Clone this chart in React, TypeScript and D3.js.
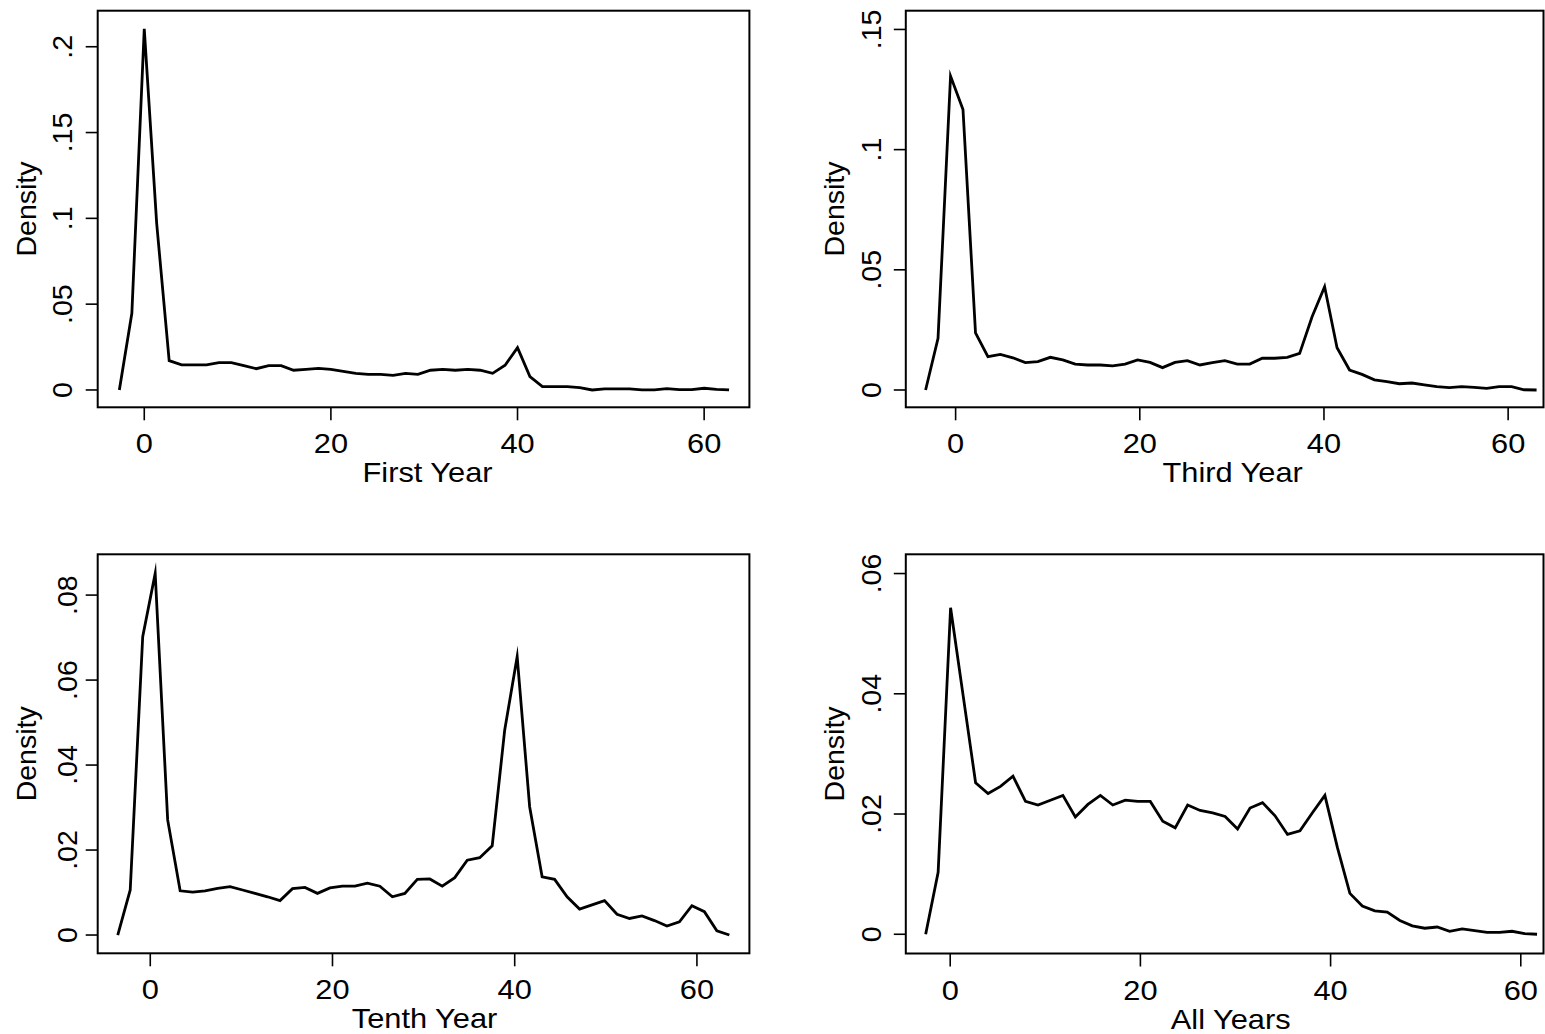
import React from "react";
import * as d3 from "d3";

// ---- data ----
const firstYearX = [-2.67, -1.33, 0, 1.33, 2.67, 4, 5.33, 6.67, 8, 9.33, 10.67, 12, 13.33, 14.67, 16, 17.33, 18.67, 20, 21.33, 22.67, 24, 25.33, 26.67, 28, 29.33, 30.67, 32, 33.33, 34.67, 36, 37.33, 38.67, 40, 41.33, 42.67, 44, 45.33, 46.67, 48, 49.33, 50.67, 52, 53.33, 54.67, 56, 57.33, 58.67, 60, 61.33, 62.67];
const firstYearY = [0, 0.0447, 0.2104, 0.0971, 0.0171, 0.0146, 0.0146, 0.0146, 0.0159, 0.0159, 0.0142, 0.0124, 0.0142, 0.0142, 0.0115, 0.012, 0.0126, 0.012, 0.0109, 0.0097, 0.0091, 0.0091, 0.0085, 0.0097, 0.0091, 0.0115, 0.012, 0.0115, 0.012, 0.0115, 0.0097, 0.0144, 0.0247, 0.0078, 0.0019, 0.0019, 0.0019, 0.0014, 0, 0.0006, 0.0006, 0.0006, 0, 0, 0.0008, 0.0002, 0.0002, 0.001, 0.0004, 0];

const thirdYearX = [-3.26, -1.91, -0.55, 0.8, 2.16, 3.51, 4.86, 6.22, 7.57, 8.93, 10.28, 11.63, 12.99, 14.34, 15.7, 17.05, 18.4, 19.76, 21.11, 22.47, 23.82, 25.17, 26.53, 27.88, 29.24, 30.59, 31.94, 33.3, 34.65, 36.01, 37.36, 38.71, 40.07, 41.42, 42.78, 44.13, 45.48, 46.84, 48.19, 49.55, 50.9, 52.25, 53.61, 54.96, 56.32, 57.67, 59.02, 60.38, 61.73, 63.09];
const thirdYearY = [0, 0.0215, 0.1306, 0.1167, 0.0238, 0.0139, 0.0148, 0.0134, 0.0114, 0.0118, 0.0136, 0.0125, 0.0108, 0.0104, 0.0104, 0.01, 0.0108, 0.0125, 0.0115, 0.0093, 0.0115, 0.0122, 0.0104, 0.0114, 0.0122, 0.0108, 0.0108, 0.0132, 0.0132, 0.0136, 0.0152, 0.0305, 0.043, 0.0176, 0.0083, 0.0065, 0.0042, 0.0035, 0.0026, 0.0029, 0.0021, 0.0014, 0.001, 0.0014, 0.0011, 0.0007, 0.0014, 0.0014, 0.0001, 0];

const tenthYearX = [-3.57, -2.2, -0.83, 0.54, 1.91, 3.28, 4.65, 6.02, 7.39, 8.76, 10.13, 11.5, 12.87, 14.24, 15.61, 16.98, 18.35, 19.72, 21.09, 22.46, 23.83, 25.2, 26.57, 27.94, 29.31, 30.68, 32.05, 33.42, 34.79, 36.16, 37.53, 38.9, 40.27, 41.64, 43.01, 44.38, 45.75, 47.12, 48.49, 49.86, 51.23, 52.6, 53.97, 55.34, 56.71, 58.08, 59.45, 60.82, 62.19, 63.56];
const tenthYearY = [0, 0.0106, 0.0702, 0.0851, 0.0271, 0.0104, 0.0101, 0.0104, 0.011, 0.0114, 0.0106, 0.0098, 0.009, 0.0081, 0.0109, 0.0112, 0.0098, 0.0111, 0.0115, 0.0115, 0.0122, 0.0115, 0.009, 0.0098, 0.0131, 0.0132, 0.0115, 0.0135, 0.0176, 0.0182, 0.021, 0.0482, 0.0655, 0.0302, 0.0137, 0.0131, 0.009, 0.0061, 0.0071, 0.0081, 0.0049, 0.0039, 0.0045, 0.0034, 0.0021, 0.0031, 0.0069, 0.0055, 0.001, 0];

const allYearsX = [-2.58, -1.27, 0.04, 1.36, 2.67, 3.98, 5.29, 6.6, 7.92, 9.23, 10.54, 11.85, 13.16, 14.48, 15.79, 17.1, 18.41, 19.72, 21.04, 22.35, 23.66, 24.97, 26.28, 27.6, 28.91, 30.22, 31.53, 32.84, 34.16, 35.47, 36.78, 38.09, 39.4, 40.72, 42.03, 43.34, 44.65, 45.96, 47.28, 48.59, 49.9, 51.21, 52.52, 53.84, 55.15, 56.46, 57.77, 59.08, 60.4, 61.71];
const allYearsY = [0, 0.0103, 0.0543, 0.0397, 0.0252, 0.0234, 0.0246, 0.0263, 0.0221, 0.0215, 0.0223, 0.0231, 0.0195, 0.0216, 0.0231, 0.0215, 0.0223, 0.0221, 0.0221, 0.0188, 0.0177, 0.0215, 0.0206, 0.0202, 0.0196, 0.0175, 0.021, 0.0219, 0.0197, 0.0166, 0.0172, 0.0202, 0.0231, 0.0144, 0.0068, 0.0047, 0.0039, 0.0037, 0.0023, 0.0014, 0.001, 0.0012, 0.0005, 0.0009, 0.0006, 0.0003, 0.0003, 0.0005, 0.0001, 0];

const xTicks = [0, 20, 40, 60];
const xTickLabels = ["0", "20", "40", "60"];

const firstYTicks = [0, 0.05, 0.1, 0.15, 0.2];
const firstYLabels = ["0", ".05", ".1", ".15", ".2"];
const thirdYTicks = [0, 0.05, 0.1, 0.15];
const thirdYLabels = ["0", ".05", ".1", ".15"];
const tenthYTicks = [0, 0.02, 0.04, 0.06, 0.08];
const tenthYLabels = ["0", ".02", ".04", ".06", ".08"];
const allYTicks = [0, 0.02, 0.04, 0.06];
const allYLabels = ["0", ".02", ".04", ".06"];

const titles = ["First Year", "Third Year", "Tenth Year", "All Years"];
const yTitle = "Density";

// ---- layout ----
const W = 1545;
const H = 1034;
const FONT = "'Liberation Sans', Arial, Helvetica, sans-serif";
const FS = 28.5;
const HX = 1.08; // horizontal widening of upright text

type Panel = {
  xs: number[];
  ys: number[];
  yTicks: number[];
  yLabels: string[];
  title: string;
  left: number;
  right: number;
  top: number;
  bottom: number;
  xDom: [number, number];
  yDom: [number, number];
  yLabOff: number;
  titleShift: number;
};

const panels: Panel[] = [
  { xs: firstYearX, ys: firstYearY, yTicks: firstYTicks, yLabels: firstYLabels, title: titles[0],
    left: 97.7, right: 749.4, top: 10.7, bottom: 407.3, xDom: [-4.99, 64.85], yDom: [-0.0101, 0.221], yLabOff: 26, titleShift: 4 },
  { xs: thirdYearX, ys: thirdYearY, yTicks: thirdYTicks, yLabels: thirdYLabels, title: titles[1],
    left: 905.8, right: 1543.5, top: 10.7, bottom: 407.3, xDom: [-5.41, 63.84], yDom: [-0.0072, 0.1578], yLabOff: 24.5, titleShift: 8 },
  { xs: tenthYearX, ys: tenthYearY, yTicks: tenthYTicks, yLabels: tenthYLabels, title: titles[2],
    left: 97.7, right: 749.4, top: 554.3, bottom: 953.3, xDom: [-5.77, 65.76], yDom: [-0.0043, 0.0896], yLabOff: 21, titleShift: 1 },
  { xs: allYearsX, ys: allYearsY, yTicks: allYTicks, yLabels: allYLabels, title: titles[3],
    left: 905.8, right: 1543.5, top: 554.3, bottom: 953.5, xDom: [-4.67, 62.39], yDom: [-0.0032, 0.0632], yLabOff: 24.5, titleShift: 6 },
];

function Upright({ x, y, children }: { x: number; y: number; children: React.ReactNode }) {
  return (
    <text
      transform={`translate(${x},${y}) scale(${HX},1)`}
      textAnchor="middle"
      fontFamily={FONT}
      fontSize={FS}
      fill="#000"
    >
      {children}
    </text>
  );
}

function PanelView({ p, idx }: { p: Panel; idx: number }) {
  const x = d3.scaleLinear().domain(p.xDom).range([p.left, p.right]);
  const y = d3.scaleLinear().domain(p.yDom).range([p.bottom, p.top]);
  const pts = p.xs.map((v, i) => [v, p.ys[i]] as [number, number]);
  const line = d3
    .line<[number, number]>()
    .x((d) => x(d[0]))
    .y((d) => y(d[1]));
  const cx = (p.left + p.right) / 2;
  const cy = (p.top + p.bottom) / 2;
  const clipId = `clip${idx}`;
  return (
    <g>
      <defs>
        <clipPath id={clipId}>
          <rect x={p.left} y={p.top} width={p.right - p.left} height={p.bottom - p.top} />
        </clipPath>
      </defs>
      <path
        d={line(pts) || ""}
        fill="none"
        stroke="#000"
        strokeWidth={2.8}
        strokeLinejoin="miter"
        strokeMiterlimit={10}
        clipPath={`url(#${clipId})`}
      />
      <rect
        x={p.left}
        y={p.top}
        width={p.right - p.left}
        height={p.bottom - p.top}
        fill="none"
        stroke="#000"
        strokeWidth={2}
      />
      {p.yTicks.map((t, i) => (
        <g key={"y" + i}>
          <line x1={p.left - 12} x2={p.left} y1={y(t)} y2={y(t)} stroke="#000" strokeWidth={1.6} />
          <text
            transform={`translate(${p.left - p.yLabOff},${y(t)}) rotate(-90)`}
            textAnchor="middle"
            fontFamily={FONT}
            fontSize={FS}
            fill="#000"
          >
            {p.yLabels[i]}
          </text>
        </g>
      ))}
      {xTicks.map((t, i) => (
        <g key={"x" + i}>
          <line x1={x(t)} x2={x(t)} y1={p.bottom} y2={p.bottom + 13} stroke="#000" strokeWidth={1.6} />
          <Upright x={x(t)} y={p.bottom + 46}>
            {xTickLabels[i]}
          </Upright>
        </g>
      ))}
      <Upright x={cx + p.titleShift} y={p.bottom + 75}>
        {p.title}
      </Upright>
      <text
        transform={`translate(${p.left - 62},${cy}) rotate(-90)`}
        textAnchor="middle"
        fontFamily={FONT}
        fontSize={FS}
        fill="#000"
      >
        {yTitle}
      </text>
    </g>
  );
}

export default function App() {
  return (
    <svg
      width={W}
      height={H}
      viewBox={`0 0 ${W} ${H}`}
      style={{ position: "absolute", left: 0, top: 0, background: "#fff" }}
    >
      <rect x={0} y={0} width={W} height={H} fill="#fff" />
      {panels.map((p, i) => (
        <PanelView key={i} p={p} idx={i} />
      ))}
    </svg>
  );
}
